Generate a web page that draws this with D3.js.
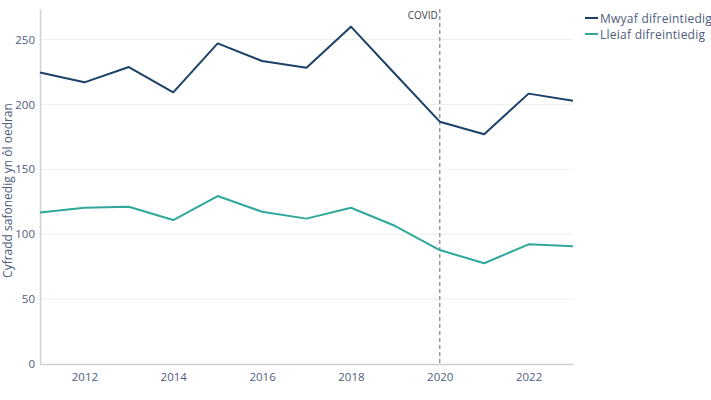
<!DOCTYPE html>
<html><head><meta charset="utf-8">
<script src="https://cdn.jsdelivr.net/npm/d3@7"></script>
<style>body{margin:0;background:#fff;}svg{display:block;font-family:"Open Sans",sans-serif;}</style>
</head><body><svg id="c" width="711" height="400"></svg>
<script>
const years = [2011,2012,2013,2014,2015,2016,2017,2018,2019,2020,2021,2022,2023];
const mostDeprived = [224.5,217,228.8,209.3,247,233.4,228.3,259.9,223.2,186.7,177,208.3,202.9];
const leastDeprived = [116.8,120.4,121.2,110.9,129.4,117.3,112,120.4,106.3,87.8,77.6,92.2,90.7];
const seriesNames = ["Mwyaf difreintiedig","Lleiaf difreintiedig"];
const xTicks = [2012,2014,2016,2018,2020,2022];
const yTicks = [0,50,100,150,200,250];
const covidYear = 2020;

const colors = ["#1c4168","#2fa89b"];
const textCol = "#4d5d7c";
const svg = d3.select("#c");
const m = {l:40, r:138, t:9, b:36};
const W = 711, H = 400;
const x = d3.scaleLinear().domain([2011,2023]).range([m.l, W-m.r]);
const y = d3.scaleLinear().domain([0,273.5]).range([H-m.b, m.t]);

// gridlines
svg.append("g").selectAll("line").data(yTicks.filter(d=>d>0)).join("line")
  .attr("x1",x(2011)).attr("x2",x(2023)).attr("y1",d=>y(d)).attr("y2",d=>y(d))
  .attr("stroke","#eeeeee").attr("stroke-width",1);

// axes
const xa = svg.append("g").attr("transform",`translate(0,${y(0)})`)
  .call(d3.axisBottom(x).tickValues(xTicks).tickFormat(d3.format("d")).tickSize(0).tickPadding(9));
xa.select(".domain").attr("stroke","#d0d0d0").attr("stroke-width",1.5);
xa.selectAll("text").attr("fill",textCol).attr("font-size",11.5).attr("font-family","Open Sans");

const ya = svg.append("g").attr("transform",`translate(${x(2011)},0)`)
  .call(d3.axisLeft(y).tickValues(yTicks).tickSize(0).tickPadding(5));
ya.select(".domain").attr("stroke","#d0d0d0").attr("stroke-width",1.5);
ya.selectAll("text").attr("fill",textCol).attr("font-size",11.5).attr("font-family","Open Sans");

// y title
svg.append("text").attr("transform",`translate(12,${(y(0)+m.t)/2 + 4}) rotate(-90)`)
  .attr("text-anchor","middle").attr("fill",textCol).attr("font-size",12)
  .text("Cyfradd safonedig yn ôl oedran");

// covid line
svg.append("line").attr("x1",x(covidYear)).attr("x2",x(covidYear))
  .attr("y1",m.t).attr("y2",y(0)).attr("stroke","#999").attr("stroke-width",1.5)
  .attr("stroke-dasharray","4,3");
svg.append("text").attr("x",x(covidYear)-2).attr("y",m.t+10).attr("text-anchor","end")
  .attr("fill","#444").attr("font-size",10).text("COVID");

// lines
const line = d3.line().x((d,i)=>x(years[i])).y(d=>y(d));
[mostDeprived, leastDeprived].forEach((s,i)=>{
  svg.append("path").datum(s).attr("d",line).attr("fill","none")
    .attr("stroke",colors[i]).attr("stroke-width",2).attr("stroke-linejoin","round");
});

// legend
seriesNames.forEach((n,i)=>{
  const g = svg.append("g").attr("transform",`translate(585,${18+i*16})`);
  g.append("line").attr("x1",0).attr("x2",13).attr("stroke",colors[i]).attr("stroke-width",2);
  g.append("text").attr("x",15).attr("y",4.5).attr("fill",textCol).attr("font-size",12)
    .attr("letter-spacing",0.25).text(n);
});
</script></body></html>
